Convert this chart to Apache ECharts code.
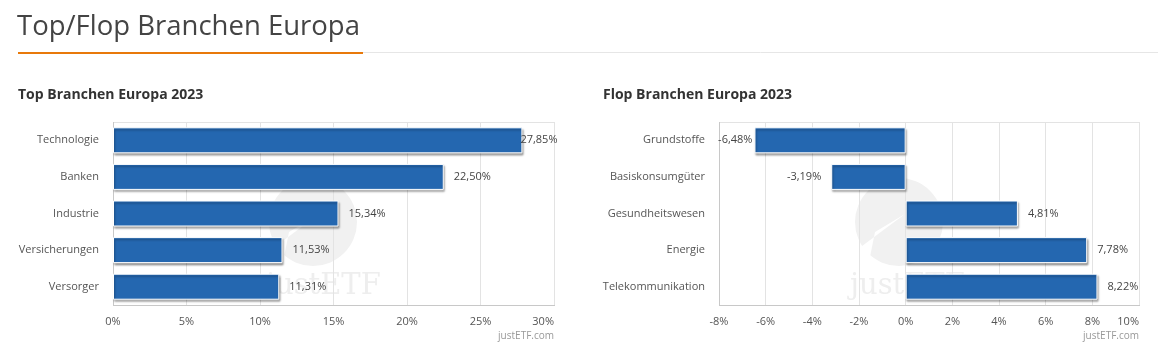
<!DOCTYPE html>
<html><head><meta charset="utf-8">
<script src="https://cdn.jsdelivr.net/npm/echarts@6/dist/echarts.min.js"></script>
<style>html,body{margin:0;padding:0;background:#fff;}#c{width:1171px;height:355px;}</style>
</head><body><div id="c"></div>
<script>
const topCategories = ['Technologie','Banken','Industrie','Versicherungen','Versorger'];
const topValues = [27.85, 22.50, 15.34, 11.53, 11.31];
const flopCategories = ['Grundstoffe','Basiskonsumgüter','Gesundheitswesen','Energie','Telekommunikation'];
const flopValues = [-6.48, -3.19, 4.81, 7.78, 8.22];
const topTicks = {min: 0, max: 30, interval: 5};
const flopTicks = {min: -8, max: 10, interval: 2};

const FONT = '"Open Sans", "Noto Sans", sans-serif';
const BAR = '#2467b0';
const fmt = v => v.toFixed(2).replace('.', ',') + '%';

function seriesData(vals, max, min) {
  return vals.map(v => {
    const item = {value: v};
    if (v < 0) item.label = {position: 'left'};
    if (v > 0 && v > max * 0.9) item.label = {position: 'right', offset: [-12, 0]};
    if (v < 0 && v < min * 0.75) item.label = {position: 'left', offset: [8, 0]};
    return item;
  });
}

const chart = echarts.init(document.getElementById('c'), null, {renderer: 'canvas'});
const grids = [
  {left: 113, top: 122, width: 441, height: 183},
  {left: 719, top: 122, width: 420, height: 183}
];
function xAx(idx, t) {
  return {
    gridIndex: idx, type: 'value', min: t.min, max: t.max, interval: t.interval,
    axisLine: {show: false}, axisTick: {show: false},
    splitLine: {show: true, lineStyle: {color: '#e3e3e3', width: 1}},
    axisLabel: {color: '#555', fontSize: 11, fontFamily: FONT, margin: 11,
      alignMaxLabel: 'right', formatter: v => v + '%'}
  };
}
function yAx(idx, cats) {
  return {
    gridIndex: idx, type: 'category', data: cats, inverse: true,
    axisLine: {show: false}, axisTick: {show: false},
    axisLabel: {color: '#555', fontSize: 11, fontFamily: FONT, margin: 14}
  };
}
function ser(idx, vals, t) {
  return {
    type: 'bar', xAxisIndex: idx, yAxisIndex: idx, barWidth: 26,
    data: seriesData(vals, t.max, t.min),
    itemStyle: {color: BAR, borderColor: '#fff', borderWidth: 1,
      shadowColor: 'rgba(0,0,0,0.35)', shadowBlur: 2, shadowOffsetX: 1, shadowOffsetY: 2},
    label: {show: true, position: 'right', distance: 10, color: '#444', fontSize: 11,
      fontFamily: FONT, formatter: p => fmt(p.value)},
    z: 3,
    emphasis: {disabled: true}
  };
}
function frame(g) {
  return [
    {type: 'rect', z: 0, silent: true, shape: {x: g.left + 0.5, y: g.top + 0.5, width: g.width, height: g.height},
      style: {fill: 'none', stroke: '#e3e3e3', lineWidth: 1}},
    {type: 'line', z: 1, silent: true, shape: {x1: g.left + 0.5, y1: g.top, x2: g.left + 0.5, y2: g.top + g.height + 1},
      style: {stroke: '#c8c8c8', lineWidth: 1}},
    {type: 'line', z: 1, silent: true, shape: {x1: g.left, y1: g.top + g.height + 0.5, x2: g.left + g.width + 1, y2: g.top + g.height + 0.5},
      style: {stroke: '#c8c8c8', lineWidth: 1}}
  ];
}
function watermark(cx, cy, tx) {
  return [
    {type: 'circle', z: 0, silent: true, shape: {cx: cx, cy: cy, r: 44}, style: {fill: '#f1f1f1'}},
    {type: 'polygon', z: 0, silent: true, shape: {points: [[cx - 45, cy + 30], [cx + 6, cy - 8], [cx - 24, cy + 10], [cx - 30, cy + 40]]},
      style: {fill: '#ffffff'}},
    {type: 'text', z: 0, silent: true, style: {x: tx, y: cy + 64, text: 'justETF', fill: '#eeeeee',
      font: '29px "DejaVu Serif", "Liberation Serif", serif', textVerticalAlign: 'middle'}}
  ];
}
const graphic = [
  {type: 'text', silent: true, style: {x: 17, y: 27, text: 'Top/Flop Branchen Europa', fill: '#444',
    font: '27.5px ' + FONT, textVerticalAlign: 'middle'}},
  {type: 'line', silent: true, shape: {x1: 363, y1: 52.5, x2: 1158, y2: 52.5}, style: {stroke: '#e6e6e6', lineWidth: 1}},
  {type: 'rect', silent: true, shape: {x: 18, y: 52, width: 345, height: 2}, style: {fill: '#e8790a'}},
  {type: 'text', silent: true, style: {x: 18, y: 95, text: 'Top Branchen Europa 2023', fill: '#333',
    font: 'bold 14px ' + FONT, textVerticalAlign: 'middle'}},
  {type: 'text', silent: true, style: {x: 603, y: 95, text: 'Flop Branchen Europa 2023', fill: '#333',
    font: 'bold 14px ' + FONT, textVerticalAlign: 'middle'}},
  {type: 'text', silent: true, style: {x: 554, y: 336, text: 'justETF.com', fill: '#999',
    font: '10px ' + FONT, textAlign: 'right', textVerticalAlign: 'middle'}},
  {type: 'text', silent: true, style: {x: 1139, y: 336, text: 'justETF.com', fill: '#999',
    font: '10px ' + FONT, textAlign: 'right', textVerticalAlign: 'middle'}}
].concat(watermark(313, 222, 266), watermark(899, 222, 850), frame(grids[0]), frame(grids[1]));

chart.setOption({
  animation: false,
  grid: grids,
  xAxis: [xAx(0, topTicks), xAx(1, flopTicks)],
  yAxis: [yAx(0, topCategories), yAx(1, flopCategories)],
  series: [ser(0, topValues, topTicks), ser(1, flopValues, flopTicks)],
  graphic: graphic
});
</script></body></html>
